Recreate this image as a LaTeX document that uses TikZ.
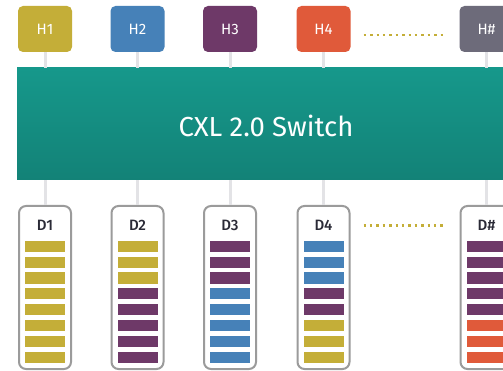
\documentclass[tikz,border=0pt]{standalone}
\usepackage{fontspec}
\setmainfont{Fira Sans}
\newfontfamily\medfont{Fira Sans Medium}
\usetikzlibrary{calc}
\definecolor{olive}{HTML}{C4AE38}
\definecolor{cblue}{HTML}{4681B8}
\definecolor{cpurple}{HTML}{6E3968}
\definecolor{corange}{HTML}{E05A3A}
\definecolor{cgray}{HTML}{6D6B7A}
\definecolor{tealtop}{HTML}{16988B}
\definecolor{tealbot}{HTML}{138277}
\definecolor{stem}{HTML}{E3E3E6}
\definecolor{devborder}{HTML}{9B9B9B}
\definecolor{devtext}{HTML}{2A2A36}
\tikzset{
  hostbox/.style={rectangle, rounded corners=5pt, minimum width=54pt, minimum height=46pt, inner sep=0pt, text=white, font=\fontsize{15}{15}\selectfont},
  devbox/.style={rectangle, rounded corners=7pt, draw=devborder, line width=2pt, fill=white, minimum width=52pt, minimum height=163pt, inner sep=0pt},
  devlabel/.style={inner sep=0pt, text=devtext, font=\medfont\fontsize{15}{15}\selectfont},
  stemline/.style={draw=stem, line width=3pt},
  dots/.style={draw=olive, line width=2.5pt, dash pattern=on 2.5pt off 3.9pt},
  barshape/.style={minimum width=40pt, minimum height=11pt, inner sep=0pt}
}
\newcommand{\devbars}[9]{%
  \foreach \c [count=\i from 0] in {#2,#3,#4,#5,#6,#7,#8,#9} {
    \node[barshape, fill=\c] (#1bar\i) at ($(#1lab)+(0,20.7+15.9*\i)$) {};
  }}
\begin{document}
\begin{tikzpicture}[x=1pt,y=-1pt]
\path[use as bounding box] (0,0) rectangle (503,371);
\clip (0,0) rectangle (503,371);
\fill[white] (0,0) rectangle (503,371);
% switch
\node[rectangle, minimum width=496pt, minimum height=112pt, inner sep=0pt, top color=tealtop, bottom color=tealbot, draw=none] (sw) at (265,124) {};
\node[text=white, inner sep=0pt, font=\fontsize{27.5}{27.5}\selectfont] (swlab) at (266,126) {CXL 2.0 Switch};
% hosts
\node[hostbox, fill=olive] (h1) at (45,29) {H1};
\node[hostbox, fill=cblue] (h2) at (137.5,29) {H2};
\node[hostbox, fill=cpurple] (h3) at (230,29) {H3};
\node[hostbox, fill=corange] (h4) at (323.5,29) {H4};
\node[hostbox, fill=cgray] (h5) at (486.5,29) {H\#};
% devices
\node[devbox] (d1) at (45,287.5) {};
\node[devbox] (d2) at (137.5,287.5) {};
\node[devbox] (d3) at (230,287.5) {};
\node[devbox] (d4) at (323.5,287.5) {};
\node[devbox] (d5) at (486.5,287.5) {};
\node[devlabel] (d1lab) at (45,225.5) {D1};
\node[devlabel] (d2lab) at (137.5,225.5) {D2};
\node[devlabel] (d3lab) at (230,225.5) {D3};
\node[devlabel] (d4lab) at (323.5,225.5) {D4};
\node[devlabel] (d5lab) at (486.5,225.5) {D\#};
% stems
\foreach \n in {1,...,5} {
  \draw[stemline] (h\n.south) -- (h\n.south |- sw.north);
  \draw[stemline] (sw.south -| d\n.north) -- (d\n.north);
}
% dotted
\draw[dots] ($(h4.east)+(13,6)$) -- ($(h5.west)+(-13,6)$);
\draw[dots] ($(d4.east |- d4lab)+(13,0)$) -- ($(d5.west |- d5lab)+(-13,0)$);
% bars
\devbars{d1}{olive}{olive}{olive}{olive}{olive}{olive}{olive}{olive}
\devbars{d2}{olive}{olive}{olive}{cpurple}{cpurple}{cpurple}{cpurple}{cpurple}
\devbars{d3}{cpurple}{cpurple}{cpurple}{cblue}{cblue}{cblue}{cblue}{cblue}
\devbars{d4}{cblue}{cblue}{cblue}{cpurple}{cpurple}{olive}{olive}{olive}
\devbars{d5}{cpurple}{cpurple}{cpurple}{cpurple}{cpurple}{corange}{corange}{corange}
\end{tikzpicture}
\end{document}
